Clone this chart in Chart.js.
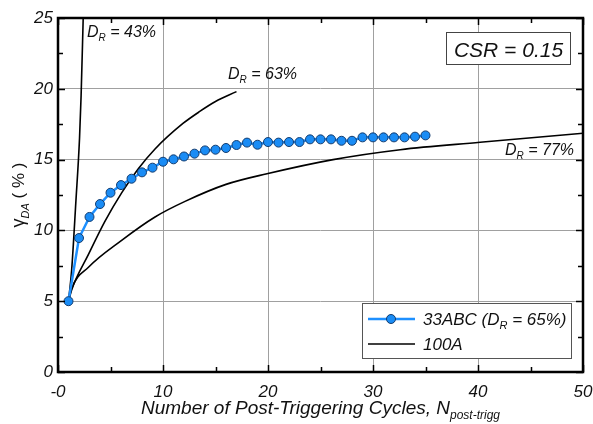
<!DOCTYPE html>
<html>
<head>
<meta charset="utf-8">
<script src="https://cdn.jsdelivr.net/npm/chart.js@4.4.1/dist/chart.umd.min.js"></script>
<style>
html, body { margin: 0; padding: 0; background: #fff; }
</style>
</head>
<body>
<canvas id="chart" width="593" height="424"></canvas>
<script>
// 33ABC (DR = 65%) test points
const cycles33 = [1, 2, 3, 4, 5, 6, 7, 8, 9, 10, 11, 12, 13, 14, 15, 16, 17, 18,
    19, 20, 21, 22, 23, 24, 25, 26, 27, 28, 29, 30, 31, 32, 33, 34, 35];
const strain33 = [5.0, 9.46, 10.95, 11.86, 12.66, 13.2, 13.65, 14.1, 14.43, 14.85, 15.02, 15.22,
    15.42, 15.65, 15.7, 15.82, 16.03, 16.2, 16.05, 16.24, 16.2, 16.24, 16.24, 16.43, 16.43,
    16.43, 16.33, 16.33, 16.57, 16.57, 16.57, 16.57, 16.57, 16.62, 16.71];

// 100A curves
const dr43N = [1, 1.3, 1.7, 2.05, 2.2, 2.4];
const dr43G = [5, 7.2, 12, 16.5, 19.5, 25];
const dr63N = [1, 1.3, 2.9, 4.48, 6.06, 7.65, 9.24, 11.9, 13.5, 15, 17];
const dr63G = [5, 5.8, 8.3, 10.65, 12.65, 14.35, 15.75, 17.55, 18.4, 19.1, 19.8];
const dr77N = [1, 1.3, 2.9, 6.06, 9.24, 12.1, 16, 19.9, 26.2, 32.6, 40.2, 50];
const dr77G = [5, 5.9, 7.4, 9.3, 10.95, 12.05, 13.25, 14.0, 15.0, 15.7, 16.22, 16.86];

const xTickLabels = ['-0', '10', '20', '30', '40', '50'];

const FONT = '"Liberation Sans", Arial, sans-serif';
const pts = (xs, ys) => xs.map((x, i) => ({ x: x, y: ys[i] }));

// draw text made of pieces: [text, size, italic, dy]
function richWidth(ctx, parts) {
    let w = 0;
    parts.forEach(p => {
        ctx.font = (p[2] ? 'italic ' : '') + p[1] + 'px ' + FONT;
        w += ctx.measureText(p[0]).width;
    });
    return w;
}
function drawRich(ctx, x, y, parts, align) {
    let cx = x;
    if (align === 'center') cx -= richWidth(ctx, parts) / 2;
    ctx.textAlign = 'left';
    ctx.textBaseline = 'alphabetic';
    parts.forEach(p => {
        ctx.font = (p[2] ? 'italic ' : '') + p[1] + 'px ' + FONT;
        ctx.fillText(p[0], cx, y + (p[3] || 0));
        cx += ctx.measureText(p[0]).width;
    });
}

const decor = {
    id: 'decor',
    afterDraw(chart) {
        const ctx = chart.ctx;
        const a = chart.chartArea;
        const xs = chart.scales.x, ys = chart.scales.y;
        ctx.save();
        ctx.strokeStyle = '#000';
        ctx.lineWidth = 1.5;
        ctx.beginPath();
        for (let v = 0; v <= 50; v += 5) {
            const px = Math.round(xs.getPixelForValue(v)) + 0.5;
            const len = v % 10 === 0 ? 7 : 5;
            ctx.moveTo(px, a.bottom); ctx.lineTo(px, a.bottom - len);
            ctx.moveTo(px, a.top); ctx.lineTo(px, a.top + len);
        }
        for (let v = 0; v <= 25; v += 2.5) {
            const py = Math.round(ys.getPixelForValue(v)) + 0.5;
            const len = v % 5 === 0 ? 7 : 5;
            ctx.moveTo(a.left, py); ctx.lineTo(a.left + len, py);
            ctx.moveTo(a.right, py); ctx.lineTo(a.right - len, py);
        }
        ctx.stroke();
        ctx.lineWidth = 2.5;
        ctx.strokeRect(a.left, a.top, a.right - a.left, a.bottom - a.top);

        ctx.fillStyle = '#111';
        // curve labels
        drawRich(ctx, 87, 37, [['D', 16, true], ['R', 10, true, 4], [' = 43%', 16, true]]);
        drawRich(ctx, 228, 79, [['D', 16, true], ['R', 10, true, 4], [' = 63%', 16, true]]);
        drawRich(ctx, 505, 155, [['D', 16, true], ['R', 10, true, 4], [' = 77%', 16, true]]);

        // CSR box
        ctx.fillStyle = '#fff';
        ctx.fillRect(446.5, 32.5, 124, 32);
        ctx.strokeStyle = '#444';
        ctx.lineWidth = 1;
        ctx.strokeRect(446.5, 32.5, 124, 32);
        ctx.fillStyle = '#111';
        drawRich(ctx, 508.5, 56.5, [['CSR = 0.15', 21, true]], 'center');

        // legend
        ctx.fillStyle = '#fff';
        ctx.fillRect(362.5, 303.5, 209, 55);
        ctx.strokeStyle = '#555';
        ctx.strokeRect(362.5, 303.5, 209, 55);
        ctx.strokeStyle = '#1e90ff';
        ctx.lineWidth = 2.5;
        ctx.beginPath(); ctx.moveTo(368, 319); ctx.lineTo(415, 319); ctx.stroke();
        ctx.beginPath(); ctx.arc(391, 319, 4.5, 0, Math.PI * 2);
        ctx.fillStyle = '#1a8cf5'; ctx.fill();
        ctx.strokeStyle = '#143c6e'; ctx.lineWidth = 1; ctx.stroke();
        ctx.strokeStyle = '#000'; ctx.lineWidth = 1.6;
        ctx.beginPath(); ctx.moveTo(368, 344); ctx.lineTo(415, 344); ctx.stroke();
        ctx.fillStyle = '#111';
        drawRich(ctx, 423, 325, [['33ABC (D', 17, true], ['R', 11, true, 4], [' = 65%)', 17, true]]);
        drawRich(ctx, 423, 350, [['100A', 17, true]]);

        // axis titles
        drawRich(ctx, (a.left + a.right) / 2, 414,
            [['Number of Post-Triggering Cycles, N', 19, true], ['post-trigg', 12, true, 5]], 'center');
        ctx.translate(24, (a.top + a.bottom) / 2);
        ctx.rotate(-Math.PI / 2);
        drawRich(ctx, 0, 0, [['\u03B3', 18, false], ['DA', 11, true, 5], [' ( % )', 17, false]], 'center');
        ctx.restore();
    }
};

new Chart(document.getElementById('chart'), {
    type: 'line',
    data: {
        datasets: [{
            label: '33ABC',
            data: pts(cycles33, strain33),
            borderColor: '#1e90ff',
            borderWidth: 2.5,
            pointRadius: 4.5,
            pointBackgroundColor: '#1a8cf5',
            pointBorderColor: '#143c6e',
            pointBorderWidth: 1
        }, {
            label: '100A',
            data: pts(dr43N, dr43G),
            borderColor: '#000',
            borderWidth: 1.6,
            pointRadius: 0,
            cubicInterpolationMode: 'monotone'
        }, {
            label: '100A',
            data: pts(dr63N, dr63G),
            borderColor: '#000',
            borderWidth: 1.6,
            pointRadius: 0,
            cubicInterpolationMode: 'monotone'
        }, {
            label: '100A',
            data: pts(dr77N, dr77G),
            borderColor: '#000',
            borderWidth: 1.6,
            pointRadius: 0,
            cubicInterpolationMode: 'monotone'
        }]
    },
    options: {
        responsive: false,
        animation: false,
        layout: { padding: { top: 18, right: 10, left: 0, bottom: 0 } },
        plugins: {
            legend: { display: false },
            tooltip: { enabled: false }
        },
        scales: {
            x: {
                type: 'linear',
                min: 0,
                max: 50,
                grid: { color: '#a0a0a0', lineWidth: 1, drawTicks: false },
                border: { display: false },
                ticks: {
                    stepSize: 10,
                    padding: 10,
                    color: '#111',
                    font: { family: FONT, size: 17, style: 'italic' },
                    callback: (v, i) => xTickLabels[i]
                },
                afterFit: s => { s.height = 52; s.paddingLeft = 0; s.paddingRight = 0; }
            },
            y: {
                min: 0,
                max: 25,
                grid: { color: '#a0a0a0', lineWidth: 1, drawTicks: false },
                border: { display: false },
                ticks: {
                    stepSize: 5,
                    padding: 5,
                    color: '#111',
                    font: { family: FONT, size: 17, style: 'italic' }
                },
                afterFit: s => { s.width = 58; s.paddingTop = 0; s.paddingBottom = 0; }
            }
        }
    },
    plugins: [decor]
});
</script>
</body>
</html>
